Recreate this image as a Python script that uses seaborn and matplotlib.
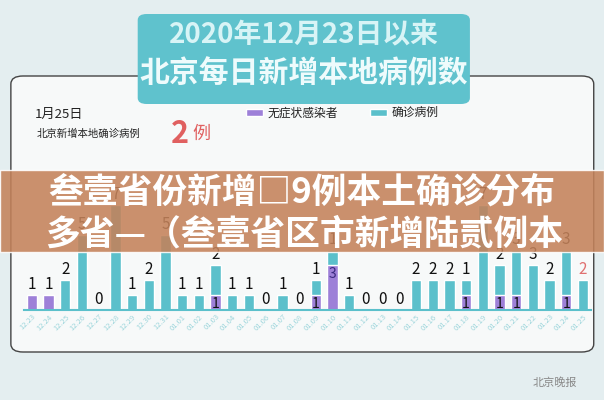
import matplotlib
matplotlib.use("Agg")
import matplotlib.pyplot as plt
import seaborn as sns
import pandas as pd
from matplotlib.patches import FancyBboxPatch, Rectangle

sns.set_theme(style="white")
plt.rcParams['font.family'] = ['Noto Sans CJK SC', 'DejaVu Sans']

dates = ["12.23","12.24","12.25","12.26","12.27","12.28","12.29","12.30","12.31",
         "01.01","01.02","01.03","01.04","01.05","01.06","01.07","01.08","01.09",
         "01.10","01.11","01.12","01.13","01.14","01.15","01.16","01.17","01.18",
         "01.19","01.20","01.21","01.22","01.23","01.24","01.25"]
confirmed = [0,0,2,5,0,7,1,2,5,1,1,2,1,1,0,1,0,1,1,1,0,0,0,2,2,2,1,7,2,3,3,2,3,2]
asymptomatic = [1,1,0,0,0,0,0,0,0,0,0,1,0,0,0,0,0,1,3,0,0,0,0,0,0,0,1,0,1,1,0,0,1,0]

df = pd.DataFrame({"date": dates, "confirmed": confirmed, "asym": asymptomatic})
df["total"] = df["confirmed"] + df["asym"]

teal = "#5bc0cb"
purple = "#9d80d8"

fig = plt.figure(figsize=(6.04, 4.0), dpi=100)
fig.patch.set_facecolor("#e4eef0")

panel = FancyBboxPatch((0.018, 0.12), 0.965, 0.69, boxstyle="round,pad=0,rounding_size=0.02",
                       transform=fig.transFigure, facecolor="#f7f9f9", edgecolor="#444444",
                       lw=1.0, zorder=-5)
fig.patches.append(panel)
tbox = FancyBboxPatch((0.228, 0.74), 0.55, 0.225, boxstyle="round,pad=0,rounding_size=0.015",
                      transform=fig.transFigure, facecolor="#5fc2cd", edgecolor="none", zorder=-4)
fig.patches.append(tbox)
fig.text(0.503, 0.915, "2020年12月23日以来", ha="center", va="center", fontsize=20,
         color="#d8f4f6", fontweight="bold")
fig.text(0.503, 0.815, "北京每日新增本地病例数", ha="center", va="center", fontsize=21.5,
         color="#eefbfc", fontweight="bold")

fig.text(0.057, 0.715, "1月25日", ha="left", va="center", fontsize=9.5, color="#222222")
fig.text(0.06, 0.665, "北京新增本地确诊病例", ha="left", va="center", fontsize=7.5, color="#222222")
fig.text(0.283, 0.665, "2", ha="left", va="center", fontsize=22, color="#e06060", fontweight="bold")
fig.text(0.318, 0.665, "例", ha="left", va="center", fontsize=13, color="#e06060")

fig.patches.append(Rectangle((0.408, 0.71), 0.028, 0.018, transform=fig.transFigure,
                             facecolor=purple, zorder=-3))
fig.text(0.443, 0.718, "无症状感染者", ha="left", va="center", fontsize=8.5, color="#222222")
fig.patches.append(Rectangle((0.613, 0.71), 0.028, 0.018, transform=fig.transFigure,
                             facecolor=teal, zorder=-3))
fig.text(0.648, 0.718, "确诊病例", ha="left", va="center", fontsize=8.5, color="#222222")

ax = fig.add_axes([0.039, 0.225, 0.94, 0.30])
sns.barplot(data=df, x="date", y="total", color=teal, ax=ax, width=0.62, saturation=1)
sns.barplot(data=df, x="date", y="asym", color=purple, ax=ax, width=0.62, saturation=1)
ax.set_xlim(-0.5, len(dates) - 0.5)
ax.set_ylim(0, 8)
ax.set_facecolor("none")
for s in ["top", "right", "left"]:
    ax.spines[s].set_visible(False)
ax.spines["bottom"].set_color(teal)
ax.spines["bottom"].set_linewidth(1.5)
ax.set_yticks([])
ax.set_xlabel("")
ax.set_ylabel("")
ax.tick_params(axis="x", length=0, pad=2)
plt.setp(ax.get_xticklabels(), rotation=45, ha="right", rotation_mode="anchor",
         fontsize=5.5, color="#9ed6dc")
for i, (c, a) in enumerate(zip(confirmed, asymptomatic)):
    top = c + a
    lab = c if c > 0 else (a if i < 2 else 0)
    col = "#e07070" if i == len(dates) - 1 else "#111111"
    ax.text(i, top + 0.15, str(lab), ha="center", va="bottom", fontsize=11, color=col)
    if a > 0 and c > 0:
        ax.text(i, a - 0.1, str(a), ha="center", va="top", fontsize=10,
                color="#111111" if a == 1 else "#3a2a80")

fig.patches.append(Rectangle((0, 0.37), 1.0, 0.205, transform=fig.transFigure,
                             facecolor="#c4825a", alpha=0.88, zorder=10))
fig.text(0.5, 0.52, "叁壹省份新增□9例本土确诊分布", ha="center", va="center", fontsize=25,
         color="white", fontweight="bold", zorder=11)
fig.text(0.075, 0.415, "多省—（叁壹省区市新增陆贰例本", ha="left", va="center", fontsize=25,
         color="white", fontweight="bold", zorder=11)

fig.text(0.955, 0.045, "北京晚报", ha="right", va="center", fontsize=8, color="#888888")

fig.savefig("out.png", dpi=100, facecolor=fig.get_facecolor())
